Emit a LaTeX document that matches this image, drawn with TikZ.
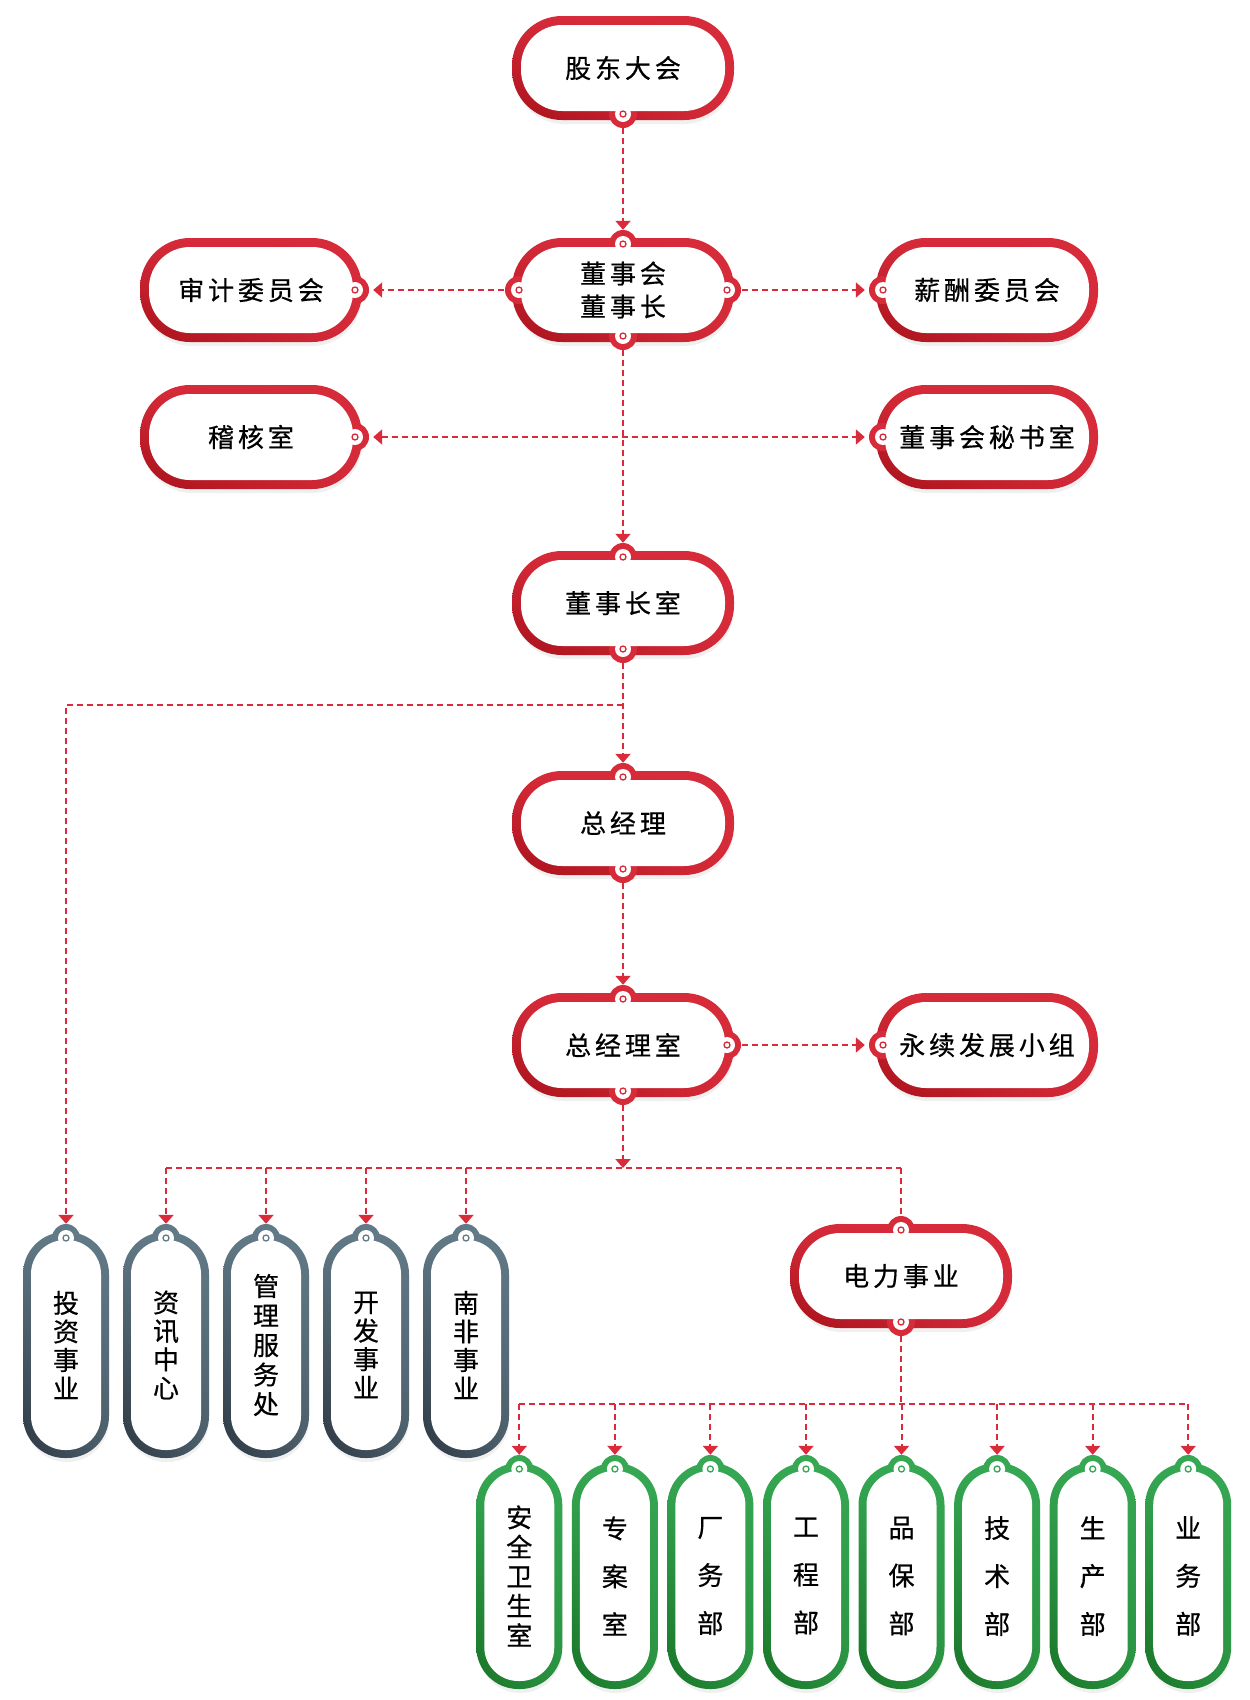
\documentclass[tikz,border=0pt]{standalone}
\usepackage{fontspec}
\setmainfont{Noto Sans CJK SC}[FakeBold=0.6]
\newfontfamily\cjkls{Noto Sans CJK SC}[LetterSpace=15,FakeBold=0.6]
\usetikzlibrary{arrows.meta,shadings}
\definecolor{rlt}{HTML}{D72B3A}
\definecolor{rdk}{HTML}{A8121B}
\definecolor{glt}{HTML}{627A87}
\definecolor{gdk}{HTML}{2C3742}
\definecolor{elt}{HTML}{36A853}
\definecolor{edk}{HTML}{187426}
\definecolor{lc}{HTML}{D92B3A}
\definecolor{shadowc}{HTML}{F0F0F0}
\tikzset{
 conn/.style={draw=lc, line width=2pt, dash pattern=on 6pt off 4pt, -{Triangle[width=15pt,length=9pt]}},
 connplain/.style={draw=lc, line width=2pt, dash pattern=on 6pt off 4pt},
 htext/.style={inner sep=0pt, minimum width=222pt, minimum height=104pt, align=center, font=\cjkls\fontsize{26}{33}\selectfont},
 vtext/.style={inner sep=0pt, minimum width=86pt, minimum height=226pt, align=center},
}
\newcommand\rbox[5]{%
 \fill[shadowc, rounded corners=50pt] ({#2-109},{#3-46}) rectangle ({#2+111},{#3+56});
 \shade[upper left=rlt, upper right=rlt, lower right=rlt, lower left=rdk, rounded corners=50pt] ({#2-111},{#3-52}) rectangle ({#2+111},{#3+52});
 \foreach \dx/\dy in {#5}{\fill[rlt] ({#2+\dx},{#3+\dy}) circle (14pt);}
 \fill[white, rounded corners=41pt] ({#2-102},{#3-43}) rectangle ({#2+102},{#3+43});
 \foreach \dx/\dy in {#5}{\fill[white] ({#2+\dx},{#3+\dy}) circle (8pt);
   \draw[rlt, line width=1.3pt] ({#2+\dx},{#3+\dy}) circle (3pt);}
 \node[htext] (#1) at (#2,#3) {#4};
}
\newcommand\pill[7]{%
 \fill[shadowc, rounded corners=42pt] ({#2-41},{#3-108}) rectangle ({#2+43},{#3+117});
 \shade[upper left=#5, upper right=#5, lower right=#6!40!#5, lower left=#6, rounded corners=42pt] ({#2-43},{#3-113}) rectangle ({#2+43},{#3+113});
 \fill[#5] (#2,{#3-107}) circle (14pt);
 \fill[white, rounded corners=34pt] ({#2-35},{#3-105}) rectangle ({#2+35},{#3+105});
 \fill[white] (#2,{#3-107}) circle (8pt);
 \draw[#5, line width=1.3pt] (#2,{#3-107}) circle (3pt);
 \node[vtext, font=\fontsize{26}{#7}\selectfont] (#1) at (#2,#3) {#4};
}
\begin{document}
\begin{tikzpicture}[x=1pt,y=-1pt]
\useasboundingbox[fill=white] (0,0) rectangle (1250,1700);
% red horizontal nodes
\rbox{gd}{623}{68}{股东大会}{0/46}
\rbox{dsh}{623}{290}{董事会\\董事长}{0/-46,0/46,-104/0,104/0}
\rbox{sj}{251}{290}{审计委员会}{104/0}
\rbox{xc}{987}{290}{薪酬委员会}{-104/0}
\rbox{jh}{251}{437}{稽核室}{104/0}
\rbox{ms}{987}{437}{董事会秘书室}{-104/0}
\rbox{dszs}{623}{603}{董事长室}{0/-46,0/46}
\rbox{zjl}{623}{823}{总经理}{0/-46,0/46}
\rbox{zjls}{623}{1045}{总经理室}{0/-46,0/46,104/0}
\rbox{yx}{987}{1045}{永续发展小组}{-104/0}
\rbox{dl}{901}{1276}{电力事业}{0/-46,0/46}
% grey pills
\pill{g1}{66}{1345}{投\\资\\事\\业}{glt}{gdk}{28.5}
\pill{g2}{166}{1345}{资\\讯\\中\\心}{glt}{gdk}{28.5}
\pill{g3}{266}{1345}{管\\理\\服\\务\\处}{glt}{gdk}{29.5}
\pill{g4}{366}{1345}{开\\发\\事\\业}{glt}{gdk}{28.5}
\pill{g5}{466}{1345}{南\\非\\事\\业}{glt}{gdk}{28.5}
% green pills
\pill{e1}{519.3}{1576}{安\\全\\卫\\生\\室}{elt}{edk}{29.5}
\pill{e2}{614.9}{1576}{专\\案\\室}{elt}{edk}{48}
\pill{e3}{710.4}{1576}{厂\\务\\部}{elt}{edk}{48}
\pill{e4}{806.0}{1576}{工\\程\\部}{elt}{edk}{48}
\pill{e5}{901.5}{1576}{品\\保\\部}{elt}{edk}{48}
\pill{e6}{997.1}{1576}{技\\术\\部}{elt}{edk}{48}
\pill{e7}{1092.7}{1576}{生\\产\\部}{elt}{edk}{48}
\pill{e8}{1188.2}{1576}{业\\务\\部}{elt}{edk}{48}
% connectors
\draw[conn] ([yshift=-8pt]gd.south) -- ([yshift=8pt]dsh.north);
\draw[conn] ([xshift=-8pt]dsh.west) -- ([xshift=11pt]sj.east);
\draw[conn] ([xshift=8pt]dsh.east) -- ([xshift=-11pt]xc.west);
\draw[conn] ([yshift=-8pt]dsh.south) -- ([yshift=8pt]dszs.north);
\draw[conn, {Triangle[width=15pt,length=9pt]}-{Triangle[width=15pt,length=9pt]}] ([xshift=11pt]jh.east) -- ([xshift=-11pt]ms.west);
\draw[conn] ([yshift=-8pt]dszs.south) -- ([yshift=8pt]zjl.north);
\coordinate (j1) at (623,705);
\draw[conn] (j1) -| ([yshift=8pt]g1.north);
\draw[conn] ([yshift=-8pt]zjl.south) -- ([yshift=8pt]zjls.north);
\draw[conn] ([xshift=8pt]zjls.east) -- ([xshift=-11pt]yx.west);
\coordinate (j2) at (623,1168);
\draw[conn] ([yshift=-8pt]zjls.south) -- (j2);
\draw[connplain] (g2.north |- j2) -- (dl.north |- j2);
\foreach \n in {g2,g3,g4,g5}{\draw[conn] (\n.north |- j2) -- ([yshift=8pt]\n.north);}
\draw[connplain] (dl.north |- j2) -- ([yshift=8pt]dl.north);
\coordinate (j3) at (901,1404);
\draw[connplain] ([yshift=-8pt]dl.south) -- (j3);
\draw[connplain] (e1.north |- j3) -- (e8.north |- j3);
\foreach \n in {e1,e2,e3,e4,e5,e6,e7,e8}{\draw[conn] (\n.north |- j3) -- ([yshift=8pt]\n.north);}
\end{tikzpicture}
\end{document}
